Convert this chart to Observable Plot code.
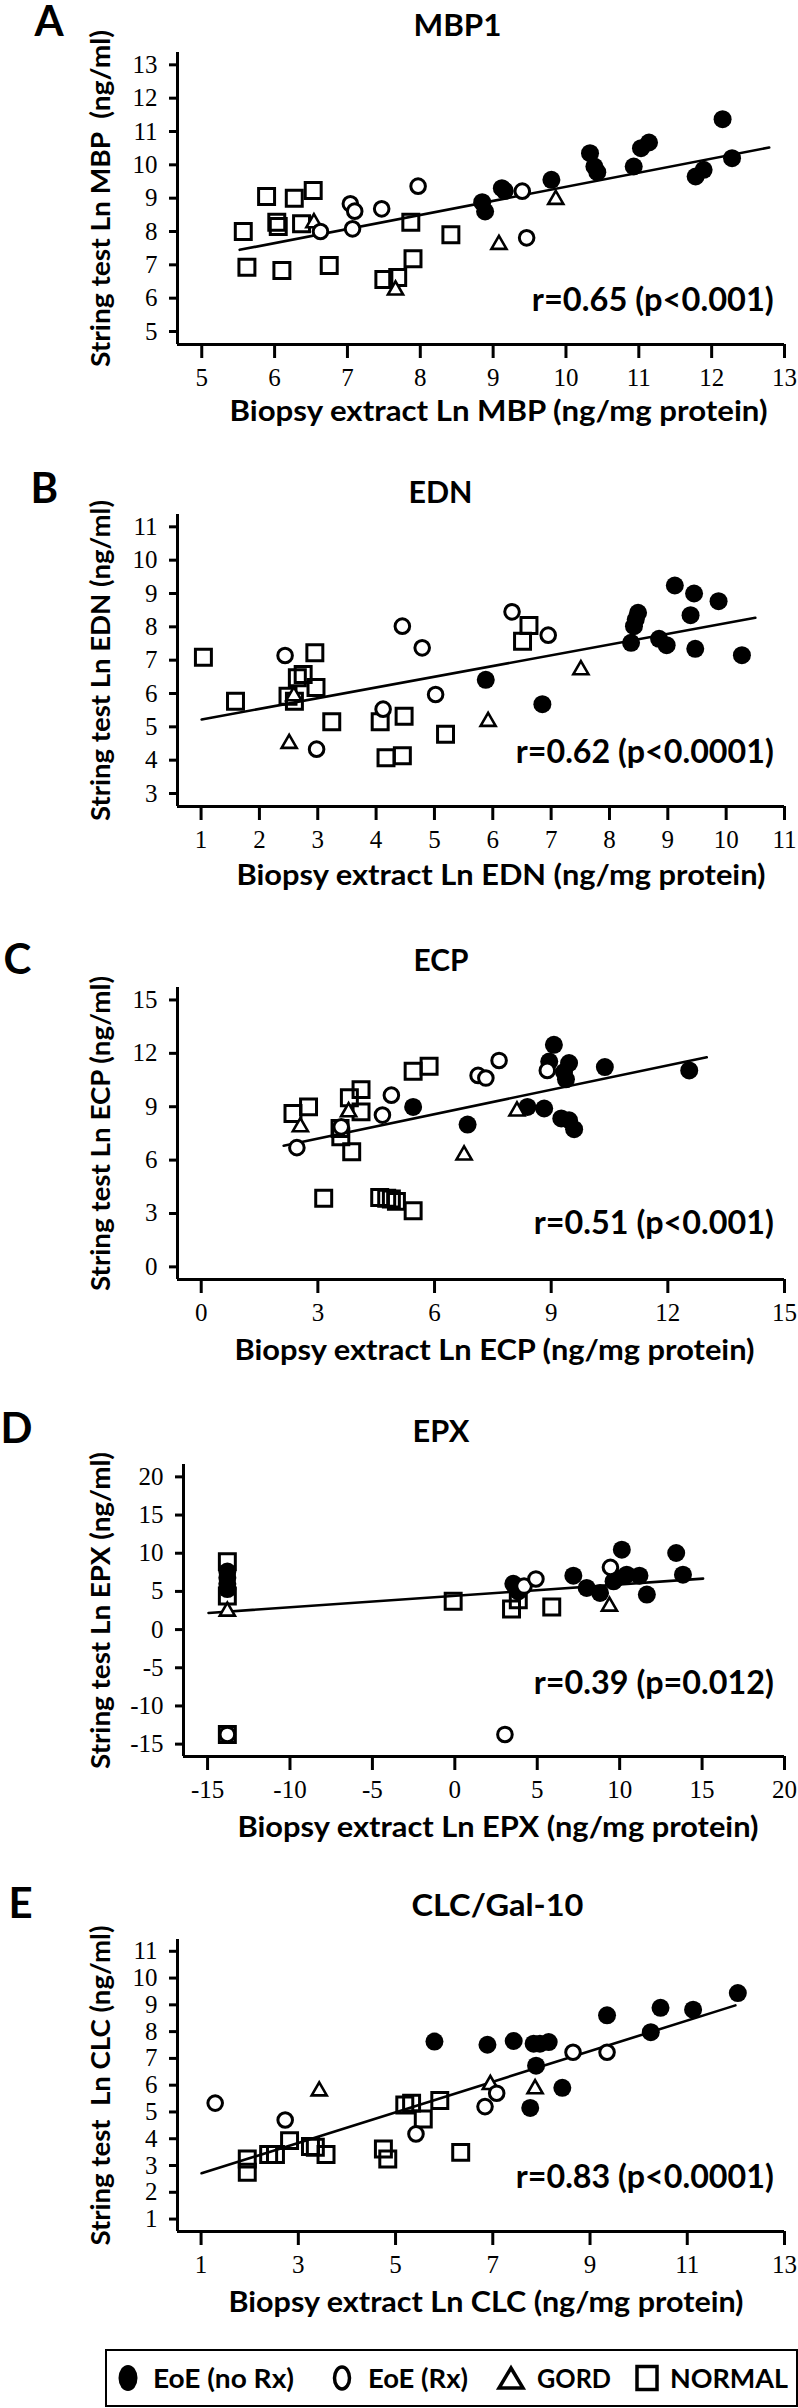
<!DOCTYPE html>
<html><head><meta charset="utf-8">
<script src="https://cdn.jsdelivr.net/npm/d3@7"></script>
<script src="https://cdn.jsdelivr.net/npm/@observablehq/plot@0.6"></script>
<style>
body{margin:0;background:#fff;}
#chart{width:798px;}
#chart svg{display:block;}
</style></head><body><div id="chart"></div>
<script>
// ---------- DATA ----------
// Panel A: MBP1
const mbpNoRx = [[8.85,8.88],[8.89,8.6],[9.12,9.3],[9.16,9.22],[9.8,9.55],[10.33,10.35],[10.39,9.95],[10.43,9.78],[10.93,9.95],[11.03,10.5],[11.14,10.67],[11.78,9.65],[11.89,9.85],[12.15,11.37],[12.28,10.2]];
const mbpRx = [[6.63,8.0],[7.04,8.83],[7.1,8.61],[7.07,8.08],[7.47,8.68],[7.97,9.36],[9.4,9.21],[9.46,7.81]];
const mbpGord = [[6.54,8.26],[7.66,6.24],[9.08,7.61],[9.86,8.96]];
const mbpNormal = [[5.57,8.0],[5.62,6.93],[5.89,9.05],[6.03,8.28],[6.05,8.15],[6.1,6.83],[6.27,9.0],[6.37,8.23],[6.53,9.23],[6.75,6.98],[7.5,6.56],[7.69,6.62],[7.87,8.28],[7.9,7.18],[8.42,7.9]];
const mbpFitX = [5.52, 12.79], mbpFitY = [7.45, 10.52];
const mbpXTicks = [5,6,7,8,9,10,11,12,13], mbpYTicks = [5,6,7,8,9,10,11,12,13];

// Panel B: EDN
const ednNoRx = [[5.88,6.41],[6.85,5.68],[8.37,7.52],[8.42,8.02],[8.45,8.22],[8.49,8.42],[8.85,7.64],[8.98,7.45],[9.12,9.24],[9.45,9.0],[9.39,8.35],[9.47,7.34],[9.87,8.77],[10.27,7.15]];
const ednRx = [[2.44,7.14],[2.98,4.33],[4.12,5.53],[4.45,8.02],[4.79,7.37],[5.02,5.97],[6.33,8.45],[6.95,7.75]];
const ednGord = [[2.59,5.93],[2.51,4.5],[5.92,5.16],[7.51,6.71]];
const ednNormal = [[1.04,7.09],[1.59,5.77],[2.49,5.92],[2.6,5.77],[2.65,6.47],[2.75,6.57],[2.95,7.22],[2.97,6.18],[3.24,5.15],[4.07,5.15],[4.48,5.32],[4.17,4.07],[4.45,4.13],[5.19,4.78],[6.62,8.04],[6.51,7.57]];
const ednFitX = [1.01, 10.5], ednFitY = [5.22, 8.27];
const ednXTicks = [1,2,3,4,5,6,7,8,9,10,11], ednYTicks = [3,4,5,6,7,8,9,10,11];

// Panel C: ECP
const ecpNoRx = [[5.45,8.99],[6.85,8.0],[9.07,12.48],[8.95,11.54],[9.46,11.45],[9.33,10.95],[9.38,10.54],[10.38,11.23],[12.55,11.04],[8.39,8.99],[8.82,8.9],[9.26,8.34],[9.46,8.24],[9.59,7.74]];
const ecpRx = [[2.46,6.7],[3.6,7.87],[4.66,8.53],[4.89,9.65],[7.12,10.76],[7.32,10.61],[7.66,11.6],[8.9,11.04]];
const ecpGord = [[2.55,7.87],[3.79,8.71],[6.76,6.28],[8.12,8.75]];
const ecpNormal = [[2.36,8.62],[2.76,8.99],[3.15,3.86],[3.57,7.78],[3.59,7.31],[3.81,9.5],[3.87,6.47],[4.11,9.96],[4.11,8.71],[4.59,3.9],[4.77,3.86],[4.89,3.81],[5.02,3.68],[5.45,3.15],[5.45,10.99],[5.86,11.27]];
const ecpFitX = [2.12, 13.0], ecpFitY = [6.81, 11.78];
const ecpXTicks = [0,3,6,9,12,15], ecpYTicks = [0,3,6,9,12,15];

// Panel D: EPX
const epxNoRx = [[-13.8,7.6],[-13.8,6.8],[-13.8,6.0],[-13.8,5.3],[3.55,6.0],[3.85,5.0],[7.19,7.06],[8.0,5.45],[8.81,4.8],[9.63,6.32],[10.13,10.46],[9.83,6.76],[10.43,7.19],[11.2,7.06],[11.65,4.58],[13.43,10.03],[13.84,7.19]];
const epxRx = [[-13.8,-13.73],[4.2,5.7],[4.92,6.63],[9.44,8.15],[3.04,-13.73]];
const epxGord = [[-13.8,2.4],[9.38,3.05]];
const epxNormal = [[-13.8,8.9],[-13.8,4.4],[-13.8,-13.73],[-0.1,3.7],[3.44,2.7],[3.85,3.9],[5.88,2.96]];
const epxFitX = [-14.94, 15.06], epxFitY = [2.18, 6.67];
const epxXTicks = [-15,-10,-5,0,5,10,15,20], epxYTicks = [-15,-10,-5,0,5,10,15,20];

// Panel E: CLC/Gal-10
const clcNoRx = [[5.8,7.63],[6.89,7.51],[7.43,7.65],[7.84,7.55],[7.97,7.55],[8.15,7.61],[7.89,6.73],[7.77,5.15],[8.43,5.9],[9.35,8.61],[10.25,7.98],[10.45,8.89],[11.12,8.82],[12.04,9.44]];
const clcRx = [[1.29,5.33],[2.73,4.7],[5.42,4.18],[6.84,5.2],[7.08,5.7],[8.65,7.23],[9.35,7.23]];
const clcGord = [[3.43,5.78],[6.95,6.02],[7.87,5.86]];
const clcNormal = [[1.95,3.24],[1.95,2.75],[2.39,3.41],[2.53,3.41],[2.82,3.93],[3.25,3.71],[3.35,3.68],[3.57,3.41],[4.75,3.62],[4.84,3.24],[5.19,5.26],[5.33,5.33],[5.57,4.74],[5.91,5.43],[6.34,3.49]];
const clcFitX = [1.01, 11.99], clcFitY = [2.71, 8.98];
const clcXTicks = [1,3,5,7,9,11,13], clcYTicks = [1,2,3,4,5,6,7,8,9,10,11];

// Text
const panelLetters = ["A","B","C","D","E"];
const panelTitles = ["MBP1","EDN","ECP","EPX","CLC/Gal-10"];
const yLabels = ["String test Ln MBP \u00a0(ng/ml)","String test Ln EDN (ng/ml)","String test Ln ECP (ng/ml)","String test Ln EPX (ng/ml)","String test \u00a0Ln CLC (ng/ml)"];
const xLabels = ["Biopsy extract Ln MBP (ng/mg protein)","Biopsy extract Ln EDN (ng/mg protein)","Biopsy extract Ln ECP (ng/mg protein)","Biopsy extract Ln EPX (ng/mg protein)","Biopsy extract Ln CLC (ng/mg protein)"];
const statLabels = ["r=0.65 (p<0.001)","r=0.62 (p<0.0001)","r=0.51 (p<0.001)","r=0.39 (p=0.012)","r=0.83 (p<0.0001)"];
const legendLabels = ["EoE (no Rx)","EoE (Rx)","GORD","NORMAL"];

// ---------- LAYOUT ----------
const SANS = "Lato, 'Open Sans', sans-serif";
const SERIF = "'Liberation Serif', 'Times New Roman', serif";
const W = 798, MT = 52, AXIS = 344, MR = 14;

// rendered text widths measured on the reference (px)
const titleW = [88, 64, 55, 57, 172];
const yLabelW = [337, 321, 315, 317, 320];
const xLabelW = [538, 529, 520, 521, 515];
const statW = [242, 258, 240, 240, 258];
const legendW = [141, 100, 74, 118];

const panels = [
  {noRx: mbpNoRx, rx: mbpRx, gord: mbpGord, normal: mbpNormal, fitX: mbpFitX, fitY: mbpFitY, xTicks: mbpXTicks, yTicks: mbpYTicks,
   xDomain: [4.667, 13], yDomain: [4.61, 13.37], h: 462, ml: 177, letter: [34, 35], title: [413, 35], xl: [229, 420], stat: 300},
  {noRx: ednNoRx, rx: ednRx, gord: ednGord, normal: ednNormal, fitX: ednFitX, fitY: ednFitY, xTicks: ednXTicks, yTicks: ednYTicks,
   xDomain: [0.596, 11], yDomain: [2.61, 11.37], h: 473, ml: 177, letter: [30, 40], title: [408, 40], xl: [236, 422], stat: 290},
  {noRx: ecpNoRx, rx: ecpRx, gord: ecpGord, normal: ecpNormal, fitX: ecpFitX, fitY: ecpFitY, xTicks: ecpXTicks, yTicks: ecpYTicks,
   xDomain: [-0.61, 15], yDomain: [-0.71, 15.7], h: 477, ml: 177, letter: [3, 38], title: [413, 35], xl: [234, 424], stat: 288},
  {noRx: epxNoRx, rx: epxRx, gord: epxGord, normal: epxNormal, fitX: epxFitX, fitY: epxFitY, xTicks: epxXTicks, yTicks: epxYTicks,
   xDomain: [-16.46, 20], yDomain: [-16.62, 21.62], h: 475, ml: 183, letter: [0, 30], title: [412, 29], xl: [237, 424], stat: 271},
  {noRx: clcNoRx, rx: clcRx, gord: clcGord, normal: clcNormal, fitX: clcFitX, fitY: clcFitY, xTicks: clcXTicks, yTicks: clcYTicks,
   xDomain: [0.515, 13], yDomain: [0.536, 11.44], h: 453, ml: 177, letter: [8, 30], title: [411, 28], xl: [228, 424], stat: 290}
];

const toPts = arr => arr.map(([x, y]) => ({x, y}));
const fmt = d => String(d);

function makePanel(p, i) {
  const ml = p.ml;
  const fit = p.fitX.map((x, k) => ({x, y: p.fitY[k]}));
  const txt = {text: d => d, fontFamily: SANS, fontWeight: "bold", fill: "black"};
  return Plot.plot({
    width: W, height: p.h,
    marginLeft: ml, marginRight: MR, marginTop: MT, marginBottom: p.h - AXIS,
    x: {domain: p.xDomain}, y: {domain: p.yDomain},
    style: {fontFamily: SERIF, fontSize: "25px", color: "black", background: "white", overflow: "visible"},
    marks: [
      Plot.axisX({ticks: p.xTicks, tickSize: 14, tickPadding: 10, strokeWidth: 3, label: null, tickFormat: fmt}),
      Plot.axisY({ticks: p.yTicks, tickSize: 8, tickPadding: 12, strokeWidth: 3, label: null, tickFormat: fmt}),
      Plot.ruleX([p.xDomain[0]], {strokeWidth: 3}),
      Plot.ruleY([p.yDomain[0]], {strokeWidth: 3}),
      Plot.line(fit, {x: "x", y: "y", strokeWidth: 2.6}),
      Plot.dot(toPts(p.normal), {x: "x", y: "y", symbol: "square", r: 9, stroke: "black", strokeWidth: 3, fill: "none"}),
      Plot.dot(toPts(p.noRx), {x: "x", y: "y", symbol: "circle", r: 9, fill: "black", stroke: "none"}),
      Plot.dot(toPts(p.gord), {x: "x", y: "y", symbol: "triangle", r: 5.6, stroke: "black", strokeWidth: 2.6, fill: "white"}),
      Plot.dot(toPts(p.rx), {x: "x", y: "y", symbol: "circle", r: 7.3, stroke: "black", strokeWidth: 3, fill: "white"}),
      // panel letter
      Plot.text([panelLetters[i]], {...txt, frameAnchor: "top-left", dx: p.letter[0] - ml, dy: p.letter[1] - MT, textAnchor: "start", lineAnchor: "bottom", fontSize: 42}),
      // title
      Plot.text([panelTitles[i]], {...txt, frameAnchor: "top-left", dx: p.title[0] - ml, dy: p.title[1] - MT, textAnchor: "start", lineAnchor: "bottom", fontSize: 31}),
      // y label
      Plot.text([yLabels[i]], {...txt, frameAnchor: "left", dx: 100.5 - ml, rotate: -90, textAnchor: "middle", lineAnchor: "middle", fontSize: 27}),
      // x label
      Plot.text([xLabels[i]], {...txt, frameAnchor: "bottom-left", dx: p.xl[0] - ml, dy: p.xl[1] - AXIS, textAnchor: "start", lineAnchor: "bottom", fontSize: 28}),
      // correlation statistic
      Plot.text([statLabels[i]], {...txt, frameAnchor: "top-right", dx: 773.3 - (W - MR), dy: p.stat - MT, textAnchor: "end", lineAnchor: "middle", fontSize: 33})
    ]
  });
}

const chart = document.getElementById("chart");
panels.forEach((p, i) => chart.appendChild(makePanel(p, i)));

// ---------- LEGEND ----------
const lg = d3.select(chart).append("svg")
  .attr("width", W).attr("height", 68)
  .style("display", "block");
const bx = 106, by = 10, bw = 691, bh = 56;
lg.append("rect").attr("x", bx).attr("y", by).attr("width", bw).attr("height", bh)
  .attr("fill", "white").attr("stroke", "black").attr("stroke-width", 2);
const cy = by + bh / 2;
const markerX = [128, 342, 511, 647], textX = [153, 368, 537, 670];
lg.append("ellipse").attr("cx", markerX[0]).attr("cy", cy).attr("rx", 9.5).attr("ry", 13).attr("fill", "black");
lg.append("ellipse").attr("cx", markerX[1]).attr("cy", cy).attr("rx", 7.5).attr("ry", 11).attr("fill", "none").attr("stroke", "black").attr("stroke-width", 3.5);
lg.append("path").attr("d", `M${markerX[2]},${cy - 10}L${markerX[2] + 12},${cy + 10}L${markerX[2] - 12},${cy + 10}Z`)
  .attr("fill", "none").attr("stroke", "black").attr("stroke-width", 3.5).attr("stroke-linejoin", "miter");
lg.append("rect").attr("x", markerX[3] - 10).attr("y", cy - 11.5).attr("width", 20).attr("height", 23)
  .attr("fill", "none").attr("stroke", "black").attr("stroke-width", 3.5);
legendLabels.forEach((t, k) => {
  lg.append("text").attr("x", textX[k]).attr("y", cy).attr("dy", "0.36em")
    .attr("font-family", SANS).attr("font-weight", "bold").attr("font-size", 27).attr("fill", "black").text(t);
});

// ---------- match text run lengths to the reference ----------
const widths = new Map();
panelTitles.forEach((t, i) => widths.set(t, titleW[i]));
yLabels.forEach((t, i) => widths.set(t, yLabelW[i]));
xLabels.forEach((t, i) => widths.set(t, xLabelW[i]));
statLabels.forEach((t, i) => widths.set(t, statW[i]));
legendLabels.forEach((t, i) => widths.set(t, legendW[i]));
chart.querySelectorAll("text").forEach(el => {
  const w = widths.get(el.textContent);
  if (w) {
    el.setAttribute("textLength", w);
    el.setAttribute("lengthAdjust", "spacingAndGlyphs");
  }
});
</script>
</body></html>
